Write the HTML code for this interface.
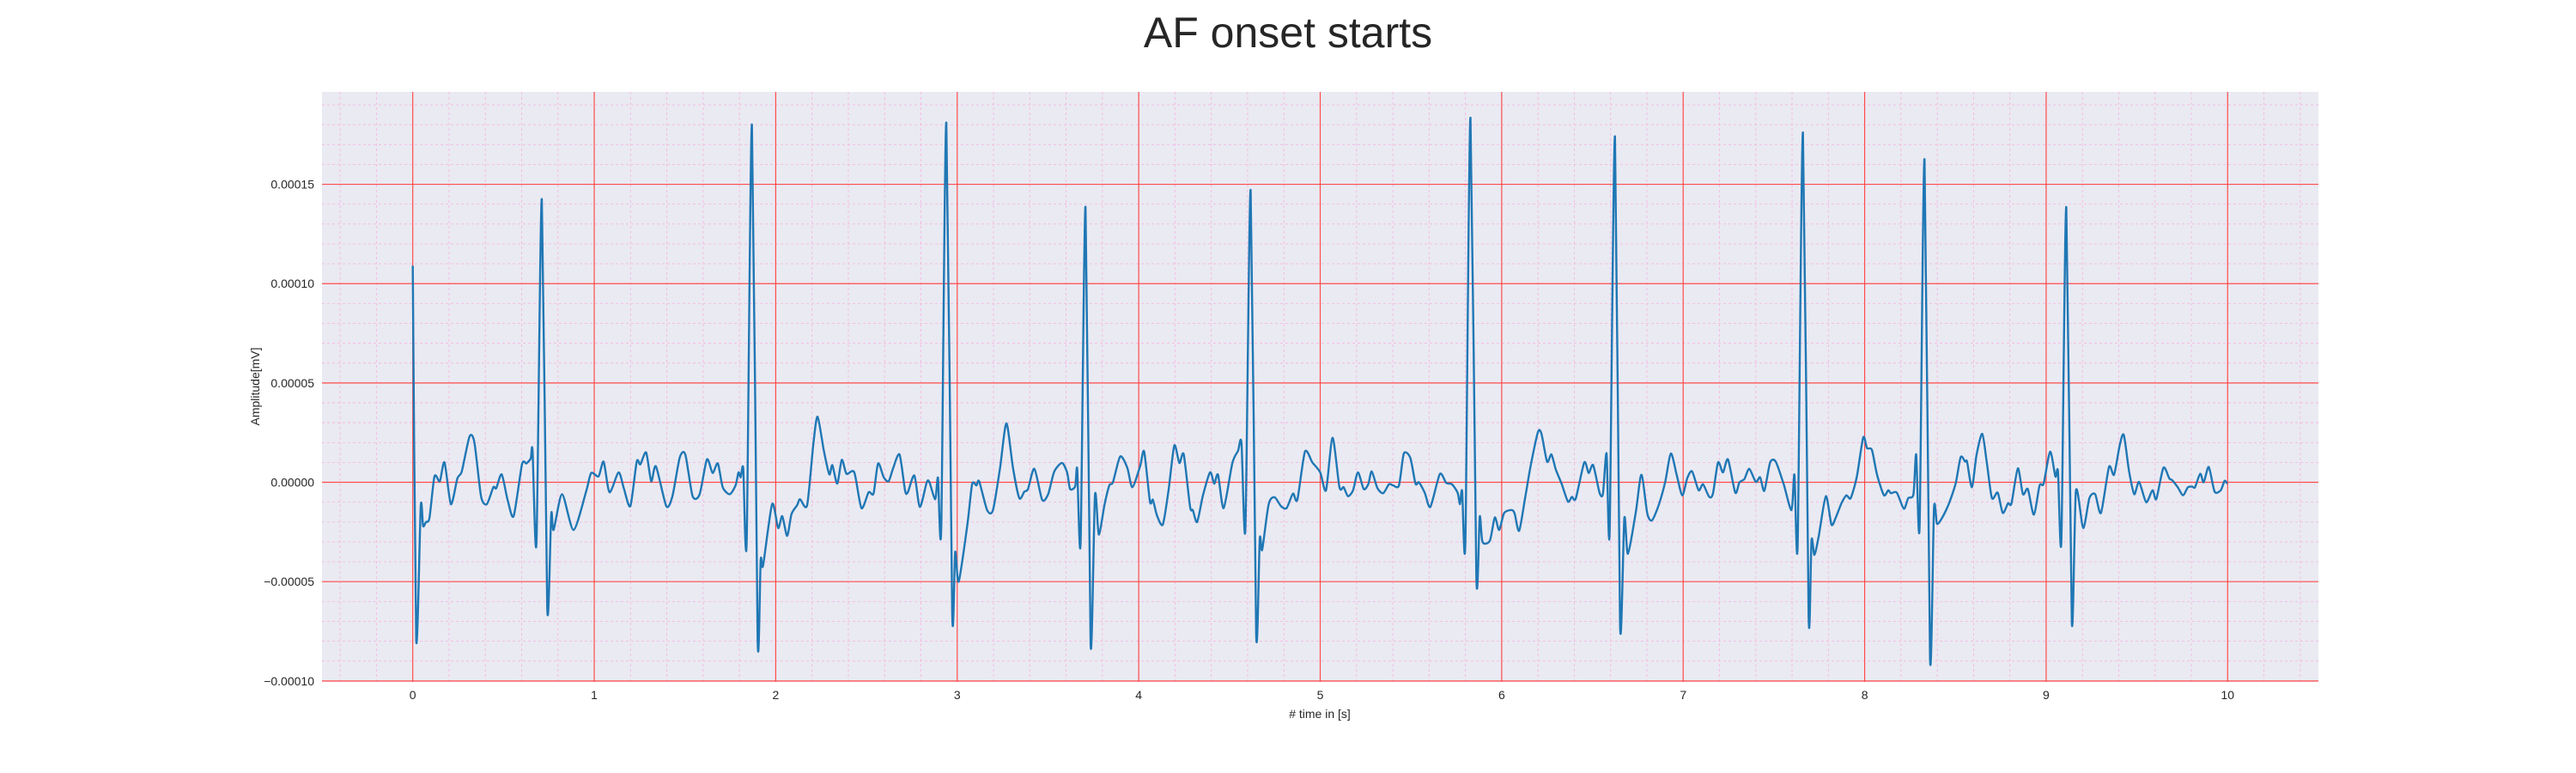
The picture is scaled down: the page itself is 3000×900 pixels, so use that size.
<!DOCTYPE html>
<html><head><meta charset="utf-8"><title>AF onset starts</title>
<style>
html,body{margin:0;padding:0;background:#fff;}
svg{display:block;}
text{font-family:"Liberation Sans",sans-serif;fill:#262626;}
</style></head>
<body>
<svg id="chart" width="3000" height="900" viewBox="0 0 3000 900" xmlns="http://www.w3.org/2000/svg">
<text x="1500" y="55" font-size="50" text-anchor="middle">AF onset starts</text>
<rect x="375" y="107" width="2325" height="687" fill="#eaeaf2"/>
<g id="minor-grid"></g>
<g id="major-grid"></g>
<g id="series"></g>
<g id="x-ticks"></g>
<g id="y-ticks"></g>
<text x="1537" y="836" font-size="14" text-anchor="middle"># time in [s]</text>
<text transform="translate(302,450) rotate(-90)" font-size="14" text-anchor="middle">Amplitude[mV]</text>
</svg>
<script>
// values in units of 1e-5 mV
const times = [0,0.019,0.044,0.057,0.073,0.092,0.12,0.149,0.175,0.21,0.246,0.27,0.313,0.34,0.376,0.408,0.444,0.46,0.49,0.523,0.556,0.602,0.626,0.65,0.66,0.682,0.711,0.741,0.763,0.776,0.823,0.886,0.957,0.983,1.024,1.052,1.084,1.134,1.163,1.199,1.234,1.254,1.286,1.314,1.34,1.397,1.431,1.471,1.502,1.542,1.581,1.621,1.652,1.681,1.708,1.747,1.779,1.795,1.807,1.821,1.84,1.869,1.9,1.917,1.93,1.98,2.013,2.036,2.063,2.087,2.118,2.134,2.173,2.208,2.231,2.265,2.295,2.312,2.339,2.364,2.39,2.433,2.472,2.512,2.539,2.564,2.595,2.622,2.646,2.682,2.713,2.728,2.764,2.794,2.832,2.847,2.879,2.894,2.912,2.94,2.972,2.989,3.008,3.055,3.082,3.106,3.121,3.165,3.197,3.236,3.271,3.307,3.342,3.37,3.39,3.425,3.468,3.501,3.535,3.578,3.606,3.622,3.65,3.661,3.68,3.707,3.735,3.759,3.78,3.811,3.838,3.858,3.898,3.937,3.965,4.008,4.03,4.062,4.078,4.101,4.133,4.164,4.196,4.224,4.248,4.283,4.298,4.322,4.353,4.393,4.416,4.437,4.468,4.516,4.547,4.566,4.588,4.617,4.647,4.667,4.68,4.716,4.749,4.784,4.815,4.85,4.874,4.916,4.957,5.0,5.032,5.068,5.106,5.129,5.153,5.181,5.208,5.24,5.265,5.284,5.315,5.347,5.379,5.402,5.434,5.461,5.497,5.525,5.544,5.576,5.607,5.659,5.694,5.726,5.757,5.77,5.782,5.8,5.828,5.86,5.879,5.894,5.935,5.962,5.986,6.014,6.057,6.072,6.096,6.129,6.161,6.2,6.219,6.25,6.274,6.298,6.33,6.365,6.387,6.408,6.455,6.479,6.504,6.539,6.558,6.578,6.595,6.624,6.652,6.676,6.695,6.739,6.77,6.802,6.828,6.865,6.901,6.932,6.964,6.995,7.022,7.049,7.085,7.109,7.143,7.164,7.192,7.219,7.247,7.287,7.31,7.337,7.364,7.4,7.424,7.447,7.479,7.51,7.554,7.597,7.613,7.631,7.66,7.691,7.707,7.723,7.746,7.786,7.817,7.841,7.872,7.899,7.923,7.957,7.992,8.013,8.04,8.068,8.106,8.13,8.145,8.177,8.216,8.24,8.269,8.284,8.303,8.33,8.36,8.382,8.398,8.422,8.461,8.501,8.529,8.553,8.564,8.591,8.616,8.648,8.674,8.701,8.733,8.761,8.79,8.809,8.844,8.872,8.899,8.932,8.964,8.986,9.022,9.051,9.065,9.084,9.111,9.141,9.164,9.204,9.238,9.27,9.302,9.346,9.374,9.406,9.428,9.457,9.485,9.512,9.551,9.586,9.607,9.646,9.678,9.694,9.725,9.754,9.781,9.805,9.82,9.849,9.868,9.896,9.928,9.962,9.983,9.998];
const amplitudes = [10.9,-7.9,-1.2,-2.2,-2.0,-1.8,0.3,0.05,1.0,-1.1,0.2,0.55,2.3,2.0,-0.7,-1.1,-0.25,-0.3,0.4,-0.9,-1.7,0.9,0.95,1.2,1.6,-3.0,14.25,-6.3,-1.6,-2.4,-0.6,-2.4,-0.4,0.47,0.3,1.04,-0.5,0.5,-0.3,-1.2,1.04,0.9,1.5,0.05,0.8,-1.2,-0.7,1.24,1.4,-0.7,-0.6,1.15,0.47,0.95,-0.25,-0.6,-0.15,0.5,0.25,0.7,-2.96,18.0,-7.83,-3.9,-4.2,-1.1,-2.3,-1.7,-2.7,-1.6,-1.15,-0.85,-1.15,2.0,3.3,1.6,0.4,0.86,-0.07,1.13,0.43,0.5,-1.3,-0.5,-0.57,0.95,0.25,0.05,0.68,1.4,-0.43,-0.5,0.34,-1.24,0,0,-0.85,0.23,-2.26,18.1,-6.5,-3.5,-5.0,-2.2,-0.1,-0.16,0.05,-1.4,-1.4,0.73,2.97,0.73,-0.8,-0.47,-0.34,0.68,-0.88,-0.6,0.55,0.97,0.47,-0.34,-0.2,0.68,-3.0,13.85,-8.14,-0.65,-2.63,-1.15,-0.16,0,1.3,0.73,-0.25,0.82,1.54,-0.97,-0.88,-1.68,-2.13,-0.43,1.85,0.97,1.4,-1.24,-1.4,-2.0,-0.7,0.5,-0.07,0.38,-1.3,0.97,1.58,1.99,-2.3,14.7,-7.6,-2.85,-3.4,-1.1,-0.75,-1.2,-1.3,-0.57,-0.88,1.54,1.0,0.5,-0.4,2.24,-0.25,-0.25,-0.7,-0.4,0.5,-0.34,-0.1,0.55,-0.29,-0.55,-0.1,-0.16,-0.16,1.45,1.22,-0.07,0,-0.52,-1.24,0.41,-0.03,-0.1,-0.52,-1.1,-0.43,-2.94,18.35,-4.68,-1.72,-3.0,-2.94,-1.77,-2.4,-1.54,-1.4,-1.6,-2.44,-0.8,0.9,2.53,2.44,1.04,1.4,0.65,-0.07,-0.97,-0.73,-0.82,1.0,0.47,0.86,-0.52,-0.57,1.45,-2.46,17.4,-7.15,-1.8,-3.6,-1.5,0.38,-1.56,-1.92,-1.15,0.02,1.45,0.38,-0.66,0.2,0.55,-0.4,-0.1,-0.73,-0.57,1.0,0.5,1.15,-0.52,0,0.16,0.68,0.02,0.25,-0.43,1.0,1.04,-0.1,-1.4,0.38,-3.1,17.6,-6.7,-2.9,-3.65,-2.76,-0.7,-2.13,-1.77,-1.06,-0.66,-0.8,0.29,2.26,1.72,1.63,0.38,-0.65,-0.4,-0.55,-0.52,-1.33,-0.8,-0.6,1.4,-2.17,16.24,-8.85,-1.33,-2.08,-1.86,-1.15,-0.07,1.27,1.04,1.04,-0.25,1.36,2.44,0.91,-0.8,-0.52,-1.54,-1.06,-1.06,0.7,-0.6,-0.34,-1.63,-0.16,-0.07,1.54,0.29,0.55,-2.9,13.85,-6.97,-0.43,-2.3,-0.8,-0.6,-1.54,0.77,0.38,1.9,2.38,0.55,-0.6,0.02,-1.0,-0.4,-0.84,0.73,0.2,0.11,-0.25,-0.65,-0.25,-0.22,-0.25,0.43,0,0.77,-0.47,-0.4,0.07,-0.07];
const xTickValues = [0,1,2,3,4,5,6,7,8,9,10];
const xTickLabels = ["0","1","2","3","4","5","6","7","8","9","10"];
const yTickValues = [-10,-5,0,5,10,15];
const yTickLabels = ["\u22120.00010","\u22120.00005","0.00000","0.00005","0.00010","0.00015"];

const PL=375, PR=2700, PT=107, PB=794;
const XMIN=-0.5, XMAX=10.5, YMIN=-10.05, YMAX=19.65;
function xs(t){return PL+(t-XMIN)/(XMAX-XMIN)*(PR-PL);}
function ys(v){return PB-(v-YMIN)/(YMAX-YMIN)*(PB-PT);}
const NS="http://www.w3.org/2000/svg";
function mk(tag,parent){const e=document.createElementNS(NS,tag);parent.appendChild(e);return e;}

const minor=document.getElementById('minor-grid');
for(let i=-2;i<=52;i++){const t=i*0.2;if(t<XMIN||t>XMAX||i%5===0)continue;
  const l=mk('line',minor);
  
  
  l.setAttribute('x1',xs(t));l.setAttribute('x2',xs(t));l.setAttribute('y1',PT);l.setAttribute('y2',PB);
  l.setAttribute('stroke','#f5b8e2');l.setAttribute('stroke-width','0.9');l.setAttribute('stroke-dasharray','3,3');}
for(let v=-10;v<=19;v++){if(v%5===0)continue;
  const l=mk('line',minor);
  
  
  l.setAttribute('x1',PL);l.setAttribute('x2',PR);l.setAttribute('y1',ys(v));l.setAttribute('y2',ys(v));
  l.setAttribute('stroke','#f5b8e2');l.setAttribute('stroke-width','0.9');l.setAttribute('stroke-dasharray','3,3');}

const major=document.getElementById('major-grid');
const xt=document.getElementById('x-ticks');
xTickValues.forEach((t,i)=>{
  const l=mk('line',major);
  
  
  l.setAttribute('x1',xs(t));l.setAttribute('x2',xs(t));l.setAttribute('y1',PT);l.setAttribute('y2',PB);
  l.setAttribute('stroke','#ff4b4b');l.setAttribute('stroke-width','1.2');
  const tx=mk('text',xt);
  
  
  tx.setAttribute('x',xs(t));tx.setAttribute('y',814);tx.setAttribute('font-size','14');tx.setAttribute('text-anchor','middle');
  tx.textContent=xTickLabels[i];});
const yt=document.getElementById('y-ticks');
yTickValues.forEach((v,i)=>{
  const l=mk('line',major);
  
  
  l.setAttribute('x1',PL);l.setAttribute('x2',PR);l.setAttribute('y1',ys(v));l.setAttribute('y2',ys(v));
  l.setAttribute('stroke','#ff4b4b');l.setAttribute('stroke-width','1.2');
  const tx=mk('text',yt);
  
  
  tx.setAttribute('x',366);tx.setAttribute('y',ys(v)+5);tx.setAttribute('font-size','14');tx.setAttribute('text-anchor','end');
  tx.textContent=yTickLabels[i];});

// smooth curve (Catmull-Rom, reduced tension)
const pts=times.map((t,i)=>[xs(t),ys(amplitudes[i])]);
let d='M'+pts[0][0].toFixed(1)+','+pts[0][1].toFixed(1);
const k=1/8;
for(let i=0;i<pts.length-1;i++){
  const p0=pts[Math.max(0,i-1)],p1=pts[i],p2=pts[i+1],p3=pts[Math.min(pts.length-1,i+2)];
  const c1=[p1[0]+(p2[0]-p0[0])*k,p1[1]+(p2[1]-p0[1])*k];
  const c2=[p2[0]-(p3[0]-p1[0])*k,p2[1]-(p3[1]-p1[1])*k];
  d+=' C'+c1[0].toFixed(1)+','+c1[1].toFixed(1)+' '+c2[0].toFixed(1)+','+c2[1].toFixed(1)+' '+p2[0].toFixed(1)+','+p2[1].toFixed(1);
}
const series=document.getElementById('series');
const path=mk('path',series);


path.setAttribute('d',d);
path.setAttribute('fill','none');path.setAttribute('stroke','#1f77b4');path.setAttribute('stroke-width','2.4');path.setAttribute('stroke-linejoin','round');
</script>
</body></html>
